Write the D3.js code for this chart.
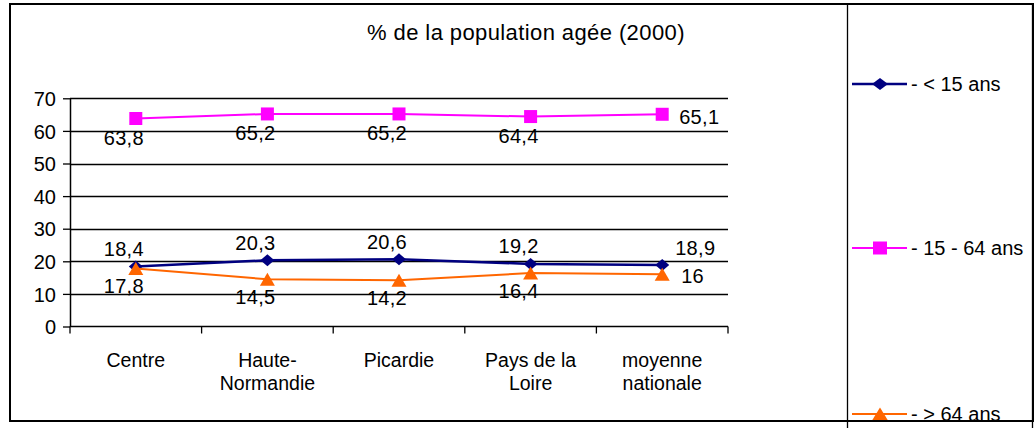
<!DOCTYPE html>
<html>
<head>
  <meta charset="utf-8">
  <title>% de la population agée (2000)</title>
  <script src="https://d3js.org/d3.v7.min.js"></script>
  <style>
    body { margin: 0; background: #fff; }
    svg text { font-family: "Liberation Sans", Arial, sans-serif; fill: #000; }
  </style>
</head>
<body>
  <div id="chart"></div>

  <script>
    // data
    const categories = ["Centre", "Haute-Normandie", "Picardie", "Pays de la Loire", "moyenne nationale"];
    const categoryLines = [["Centre"], ["Haute-", "Normandie"], ["Picardie"], ["Pays de la", "Loire"], ["moyenne", "nationale"]];
    const under15 = [18.4, 20.3, 20.6, 19.2, 18.9];
    const from15to64 = [63.8, 65.2, 65.2, 64.4, 65.1];
    const over64 = [17.8, 14.5, 14.2, 16.4, 16];
    const seriesNames = ["- < 15 ans", "- 15 - 64 ans", "- > 64 ans"];
    const yTicks = [0, 10, 20, 30, 40, 50, 60, 70];
    const title = "% de la population agée (2000)";

    const width = 1036, height = 428;
    const plot = { left: 70, right: 728, top: 98.3, bottom: 326.5 };

    const svg = d3.select("#chart")
      .append("svg")
      .attr("width", width)
      .attr("height", height);

    const x = d3.scaleBand()
      .domain(categories)
      .range([plot.left, plot.right]);

    const y = d3.scaleLinear()
      .domain([0, 70])
      .range([plot.bottom, plot.top]);

    const cx = d => x(d) + x.bandwidth() / 2;

    // marker shapes
    function marker(g, shape, color, w, h) {
      let p;
      if (shape === "diamond") p = `M0,${-h/2}L${w/2},0L0,${h/2}L${-w/2},0Z`;
      else if (shape === "square") p = `M${-w/2},${-h/2}h${w}v${h}h${-w}Z`;
      else p = `M0,${-h/2}L${w/2},${h/2}L${-w/2},${h/2}Z`;
      g.append("path").attr("d", p).attr("fill", color);
    }

    const series = [
      { name: seriesNames[0], values: under15, color: "#000080", shape: "diamond", mw: 14, mh: 12, lw: 2.5,
        dy: -10.5, lastDx: 13, lastDy: -10 },
      { name: seriesNames[1], values: from15to64, color: "#ff00ff", shape: "square", mw: 13, mh: 13, lw: 2,
        dy: 26, lastDx: 17, lastDy: 10 },
      { name: seriesNames[2], values: over64, color: "#ff6600", shape: "triangle", mw: 15, mh: 13, lw: 2,
        dy: 25, lastDx: 19, lastDy: 9 }
    ];

    // title
    svg.append("text")
      .attr("x", 526)
      .attr("y", 40)
      .attr("text-anchor", "middle")
      .style("font-size", "22px")
      .style("letter-spacing", "0.4px")
      .text(title);

    // gridlines
    svg.append("g")
      .selectAll("line")
      .data(yTicks.filter(t => t > 0))
      .enter().append("line")
      .attr("x1", plot.left)
      .attr("x2", plot.right)
      .attr("y1", d => Math.round(y(d)) + 0.5)
      .attr("y2", d => Math.round(y(d)) + 0.5)
      .attr("stroke", "#000")
      .attr("stroke-width", 1.3);

    // y axis
    const yAxis = svg.append("g")
      .attr("transform", `translate(${plot.left},0)`)
      .call(d3.axisLeft(y).tickValues(yTicks).tickSize(7).tickPadding(7).tickSizeOuter(0));
    yAxis.select(".domain").attr("stroke", "#000").attr("stroke-width", 1.5);
    yAxis.selectAll(".tick line").attr("stroke", "#000").attr("stroke-width", 1.3);
    yAxis.selectAll(".tick text").style("font-size", "20px").attr("dy", "0.36em");

    // x axis: ticks on band boundaries
    const xAxis = svg.append("g")
      .attr("transform", `translate(0,${plot.bottom})`);
    xAxis.append("line")
      .attr("x1", plot.left).attr("x2", plot.right)
      .attr("stroke", "#000").attr("stroke-width", 1.5);
    xAxis.selectAll(".xtick")
      .data(categories.concat([null]))
      .enter().append("line")
      .attr("class", "xtick")
      .attr("x1", (d, i) => i < categories.length ? x(d) : plot.right)
      .attr("x2", (d, i) => i < categories.length ? x(d) : plot.right)
      .attr("y1", 0).attr("y2", 7)
      .attr("stroke", "#000").attr("stroke-width", 1.3);

    const xLabels = xAxis.selectAll(".xlabel")
      .data(categories)
      .enter().append("text")
      .attr("class", "xlabel")
      .attr("text-anchor", "middle")
      .style("font-size", "19.5px");
    xLabels.each(function(d, i) {
      const t = d3.select(this);
      categoryLines[i].forEach((line, j) => {
        t.append("tspan")
          .attr("x", cx(d))
          .attr("y", 40 + j * 23.5)
          .text(line);
      });
    });

    // lines, markers, labels
    const line = d3.line()
      .x((d, i) => cx(categories[i]))
      .y(d => y(d));

    series.forEach(s => {
      svg.append("path")
        .datum(s.values)
        .attr("d", line)
        .attr("fill", "none")
        .attr("stroke", s.color)
        .attr("stroke-width", s.lw);

      s.values.forEach((v, i) => {
        const g = svg.append("g").attr("transform", `translate(${cx(categories[i])},${y(v)})`);
        marker(g, s.shape, s.color, s.mw, s.mh);
      });
    });

    series.forEach(s => {
      svg.append("g")
        .selectAll("text")
        .data(s.values)
        .enter().append("text")
        .attr("x", (d, i) => i === s.values.length - 1 ? cx(categories[i]) + s.lastDx : cx(categories[i]) - 12)
        .attr("y", (d, i) => y(d) + (i === s.values.length - 1 ? s.lastDy : s.dy))
        .attr("text-anchor", (d, i) => i === s.values.length - 1 ? "start" : "middle")
        .style("font-size", "20px")
        .style("letter-spacing", "0.3px")
        .text(d => String(d).replace(".", ","));
    });

    // legend
    const legendY = [84, 248, 414];
    series.forEach((s, i) => {
      const g = svg.append("g").attr("transform", `translate(0,${legendY[i]})`);
      g.append("line")
        .attr("x1", 852).attr("x2", 907)
        .attr("stroke", s.color).attr("stroke-width", s.lw);
      const m = g.append("g").attr("transform", "translate(880,0)");
      marker(m, s.shape, s.color, s.shape === "diamond" ? 16 : s.mw + 1, s.mh);
      g.append("text")
        .attr("x", 911)
        .attr("y", 7)
        .style("font-size", "20px")
        .text(s.name);
    });

    // frames
    svg.append("rect")
      .attr("x", 10).attr("y", 4)
      .attr("width", 1023).attr("height", 417)
      .attr("fill", "none")
      .attr("stroke", "#000").attr("stroke-width", 2);
    svg.append("rect")
      .attr("x", 847.5).attr("y", 4)
      .attr("width", 185).attr("height", 440)
      .attr("fill", "none")
      .attr("stroke", "#000").attr("stroke-width", 1.3);
  </script>
</body>
</html>
